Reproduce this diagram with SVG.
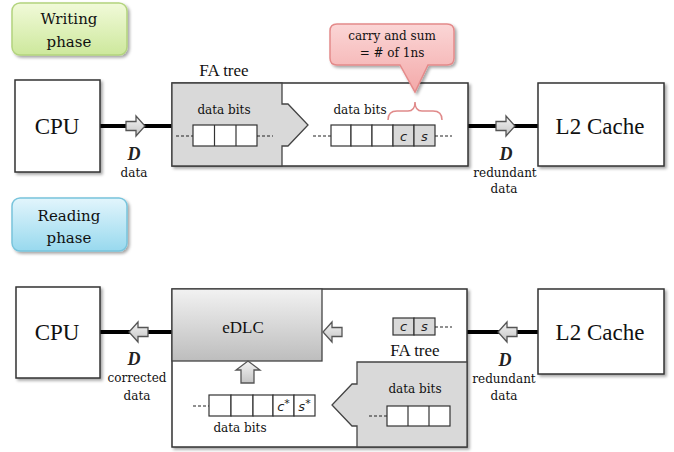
<svg xmlns="http://www.w3.org/2000/svg" width="674" height="452" viewBox="0 0 674 452">
<defs>
  <linearGradient id="gGreen" x1="0" y1="0" x2="0" y2="1"><stop offset="0" stop-color="#f1fad9"/><stop offset="1" stop-color="#cde89c"/></linearGradient>
  <linearGradient id="gBlue" x1="0" y1="0" x2="0" y2="1"><stop offset="0" stop-color="#e2f5fc"/><stop offset="1" stop-color="#98d9ee"/></linearGradient>
  <linearGradient id="gPink" x1="0" y1="0" x2="0" y2="1"><stop offset="0" stop-color="#fbd6d6"/><stop offset="1" stop-color="#f3a9a9"/></linearGradient>
  <linearGradient id="gGray" x1="0" y1="0" x2="0" y2="1"><stop offset="0" stop-color="#f2f2f2"/><stop offset="1" stop-color="#bdbdbd"/></linearGradient>
  <linearGradient id="gArrow" x1="0" y1="0" x2="0" y2="1"><stop offset="0" stop-color="#f4f4f4"/><stop offset="1" stop-color="#c4c4c4"/></linearGradient>
  <filter id="sh" x="-10%" y="-10%" width="125%" height="130%"><feDropShadow dx="2" dy="2" stdDeviation="1.5" flood-color="#000" flood-opacity="0.35"/></filter>
  <path id="arR" d="M0,-4.5 H10 V-10 L19,0 L10,10 V4.5 H0 Z"/>
</defs>
<style>
  .box{fill:#fff;stroke:#333;stroke-width:1.5}
  .gray{fill:#d9d9d9;stroke:#444;stroke-width:1.3}
  .cell{fill:#fff;stroke:#333;stroke-width:1.2}
  .gcell{fill:#d9d9d9;stroke:#333;stroke-width:1.2}
  .dash{stroke:#222;stroke-width:1.2;stroke-dasharray:3,2;fill:none}
  .thick{stroke:#000;stroke-width:4;fill:none}
  .sa{fill:url(#gArrow);stroke:#555;stroke-width:1.3}
  .big{font-family:"Liberation Serif",serif;font-size:23px;fill:#111;text-anchor:middle}
  .mid{font-family:"Liberation Serif",serif;font-size:17px;fill:#111;text-anchor:middle}
  .sm{font-family:"DejaVu Serif",serif;font-size:12px;fill:#111;text-anchor:middle}
  .ph{font-family:"DejaVu Serif",serif;font-size:15px;fill:#111;text-anchor:middle}
  .D{font-family:"Liberation Serif",serif;font-size:18px;font-style:italic;font-weight:bold;fill:#222;text-anchor:middle}
  .cs{font-family:"DejaVu Sans",sans-serif;font-size:13px;font-style:italic;fill:#222;text-anchor:middle}
</style>

<g id="writing-phase">
  <rect x="12" y="3" width="115" height="52" rx="8" fill="url(#gGreen)" stroke="#b3d47e" stroke-width="1.5" filter="url(#sh)"/>
  <text class="ph" x="69" y="24">Writing</text>
  <text class="ph" x="69" y="47">phase</text>
</g>

<g id="reading-phase">
  <rect x="12" y="198" width="115" height="53" rx="8" fill="url(#gBlue)" stroke="#78c4dc" stroke-width="1.5" filter="url(#sh)"/>
  <text class="ph" x="69" y="221">Reading</text>
  <text class="ph" x="69" y="243">phase</text>
</g>

<g id="connectors">
  <line class="thick" x1="100" y1="126" x2="172" y2="126"/>
  <line class="thick" x1="468" y1="126" x2="538" y2="126"/>
  <line class="thick" x1="100" y1="332" x2="172" y2="332"/>
  <line class="thick" x1="467" y1="332" x2="538" y2="332"/>
  <use href="#arR" class="sa" transform="translate(126,126)"/>
  <use href="#arR" class="sa" transform="translate(496,126)"/>
  <use href="#arR" class="sa" transform="translate(148,332) scale(-1,1)"/>
  <use href="#arR" class="sa" transform="translate(517,332) scale(-1,1)"/>
  <text class="D" x="134" y="160">D</text>
  <text class="sm" x="134" y="177">data</text>
  <text class="D" x="506" y="160">D</text>
  <text class="sm" x="505" y="177">redundant</text>
  <text class="sm" x="504" y="193">data</text>
  <text class="D" x="134" y="365">D</text>
  <text class="sm" x="137" y="382">corrected</text>
  <text class="sm" x="137" y="400">data</text>
  <text class="D" x="505" y="366">D</text>
  <text class="sm" x="504" y="383">redundant</text>
  <text class="sm" x="504" y="400">data</text>
</g>

<g id="cpu-top">
  <rect class="box" x="15" y="80" width="85" height="92" filter="url(#sh)"/>
  <text class="big" x="57" y="134">CPU</text>
</g>

<g id="l2-top">
  <rect class="box" x="538" y="83" width="126" height="83" filter="url(#sh)"/>
  <text class="big" x="600" y="134">L2 Cache</text>
</g>

<g id="encoder-top">
  <rect class="box" x="172" y="83" width="296" height="83" filter="url(#sh)"/>
  <path class="gray" d="M172,83 H282 V104 H288 L308,125 L288,146 H282 V166 H172 Z"/>
  <text class="mid" x="224" y="76">FA tree</text>
  <text class="sm" x="224" y="114">data bits</text>
  <line class="dash" x1="176" y1="136" x2="193" y2="136"/>
  <rect class="cell" x="193" y="125" width="64" height="21"/>
  <line x1="214.5" y1="125" x2="214.5" y2="146" stroke="#333" stroke-width="1.2"/>
  <line x1="236" y1="125" x2="236" y2="146" stroke="#333" stroke-width="1.2"/>
  <line class="dash" x1="257" y1="136" x2="273" y2="136"/>
  <text class="sm" x="360" y="114">data bits</text>
  <line class="dash" x1="313" y1="136" x2="331" y2="136"/>
  <rect class="cell" x="331" y="125" width="20" height="21"/>
  <rect class="cell" x="351" y="125" width="21" height="21"/>
  <rect class="cell" x="372" y="125" width="21" height="21"/>
  <rect class="gcell" x="393" y="125" width="21" height="21"/>
  <rect class="gcell" x="414" y="125" width="21" height="21"/>
  <text class="cs" x="403.5" y="141">c</text>
  <text class="cs" x="424.5" y="141">s</text>
  <line class="dash" x1="435" y1="136" x2="452" y2="136"/>
  <path d="M388,120 Q388,111 397,111 H408 Q415,111 415,102 Q415,111 422,111 H433 Q442,111 442,120" fill="none" stroke="#e08a8a" stroke-width="1.5"/>
</g>

<g id="callout">
  <path d="M337,24 H447 Q454,24 454,31 V58 Q454,65 447,65 H428 L415,92 L400,65 H337 Q330,65 330,58 V31 Q330,24 337,24 Z" fill="url(#gPink)" stroke="#e48a8a" stroke-width="1.5" filter="url(#sh)"/>
  <text class="sm" x="392" y="40">carry and sum</text>
  <text class="sm" x="392" y="57">= # of 1ns</text>
</g>

<g id="cpu-bottom">
  <rect class="box" x="16" y="287" width="84" height="91" filter="url(#sh)"/>
  <text class="big" x="57" y="340">CPU</text>
</g>

<g id="l2-bottom">
  <rect class="box" x="538" y="289" width="126" height="85" filter="url(#sh)"/>
  <text class="big" x="600" y="340">L2 Cache</text>
</g>

<g id="decoder-bottom">
  <rect class="box" x="172" y="289" width="295" height="158" filter="url(#sh)"/>
  <rect x="172" y="289" width="150" height="72" fill="url(#gGray)" stroke="#444" stroke-width="1.3"/>
  <text class="mid" x="243" y="333">eDLC</text>
  <use href="#arR" class="sa" transform="translate(342,332) scale(-1,1)"/>
  <path class="sa" d="M241,383 V370 H236 L248,361 L260,370 H254 V383 Z"/>
  <line class="dash" x1="193" y1="406" x2="209" y2="406"/>
  <rect class="cell" x="209" y="395" width="22" height="21"/>
  <rect class="cell" x="231" y="395" width="22" height="21"/>
  <rect class="cell" x="253" y="395" width="20" height="21"/>
  <rect class="cell" x="273" y="395" width="21" height="21"/>
  <rect class="cell" x="294" y="395" width="21" height="21"/>
  <text class="cs" x="283.5" y="411">c<tspan font-size="11" dy="-4">*</tspan></text>
  <text class="cs" x="304.5" y="411">s<tspan font-size="11" dy="-4">*</tspan></text>
  <text class="sm" x="240" y="432">data bits</text>
  <rect class="gcell" x="393" y="318" width="21" height="17"/>
  <rect class="gcell" x="414" y="318" width="21" height="17"/>
  <text class="cs" x="403.5" y="331">c</text>
  <text class="cs" x="424.5" y="331">s</text>
  <line class="dash" x1="435" y1="327" x2="452" y2="327"/>
  <text class="mid" x="415" y="356">FA tree</text>
  <path class="gray" d="M357,362 H467 V447 H357 V426 H352 L332,405 L352,384 H357 Z"/>
  <text class="sm" x="415" y="393">data bits</text>
  <line class="dash" x1="369" y1="416" x2="387" y2="416"/>
  <rect class="cell" x="387" y="406" width="63" height="20"/>
  <line x1="408" y1="406" x2="408" y2="426" stroke="#333" stroke-width="1.2"/>
  <line x1="429" y1="406" x2="429" y2="426" stroke="#333" stroke-width="1.2"/>
</g>
</svg>
